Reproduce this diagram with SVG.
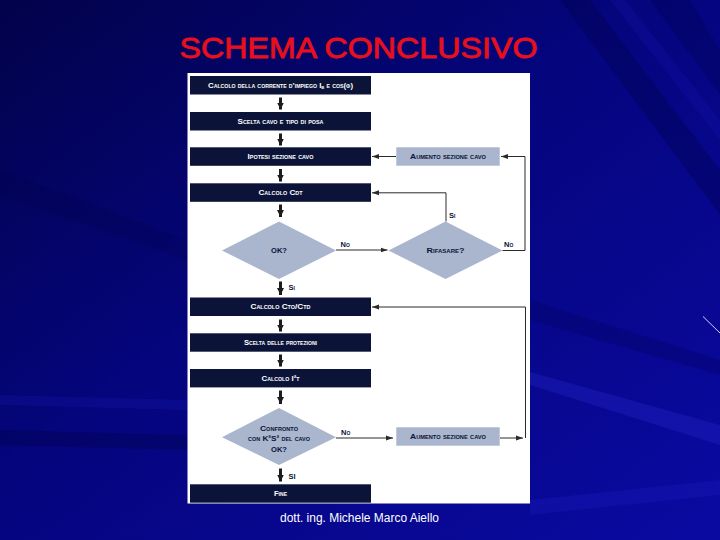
<svg xmlns="http://www.w3.org/2000/svg" width="720" height="540" viewBox="0 0 720 540">
<defs>
<linearGradient id="bg" x1="0" y1="0" x2="1" y2="1">
<stop offset="0" stop-color="#02024a"/>
<stop offset="0.45" stop-color="#05057e"/>
<stop offset="1" stop-color="#0a0aa2"/>
</linearGradient>
<marker id="thick" markerUnits="userSpaceOnUse" markerWidth="8" markerHeight="8" refX="7" refY="4" orient="auto" viewBox="0 0 8 8">
<path d="M0,0.5 L7,4 L0,7.5 z" fill="#1c1c1c"/>
</marker>
<marker id="thin" markerUnits="userSpaceOnUse" markerWidth="7" markerHeight="6" refX="7" refY="3" orient="auto" viewBox="0 0 7 6">
<path d="M0,0.5 L7,3 L0,5.5 z" fill="#2a2a2a"/>
</marker>
<style>
.dark{fill:#0b1438}
.light{fill:#a9b6cd}
.tw{fill:#ffffff;font-family:"Liberation Sans",Arial,sans-serif;font-weight:bold;font-size:7.5px;font-variant:small-caps;text-anchor:middle}
.td{fill:#0b1438;font-family:"Liberation Sans",Arial,sans-serif;font-weight:bold;font-size:7.5px;font-variant:small-caps;text-anchor:middle}
.lbl{fill:#0b1438;font-family:"Liberation Sans",Arial,sans-serif;font-weight:bold;font-size:7.5px;font-variant:small-caps}
.ta{stroke:#1c1c1c;stroke-width:3;fill:none;marker-end:url(#thick)}
.cna{stroke:#2a2a2a;stroke-width:1;fill:none;marker-end:url(#thin)}
</style>
</defs>
<rect width="720" height="540" fill="url(#bg)"/>
<g id="streaks">
<polygon points="560,0 590,0 720,170 720,215" fill="#000040" opacity="0.3"/>
<polygon points="610,0 625,0 720,120 720,140" fill="#1a1ac0" opacity="0.2"/>
<polygon points="650,0 690,0 720,50 720,95" fill="#000040" opacity="0.25"/>
<polygon points="530,372 720,425 720,445 530,385" fill="#2a2ad0" opacity="0.3"/>
<polygon points="530,300 720,360 720,375 530,320" fill="#000050" opacity="0.25"/>
<polygon points="0,395 187,400 187,410 0,405" fill="#2020c0" opacity="0.2"/>
<polygon points="0,430 187,435 187,450 0,445" fill="#000040" opacity="0.3"/>
<polygon points="530,500 720,480 720,495 530,515" fill="#2a2ad0" opacity="0.2"/>
<polygon points="0,170 187,240 187,260 0,195" fill="#000040" opacity="0.2"/>
<line x1="703" y1="316.5" x2="720" y2="333" stroke="#d8ccff" stroke-width="1"/>
</g>
<text id="title" x="358.5" y="57.7" textLength="358" lengthAdjust="spacingAndGlyphs" text-anchor="middle" font-family="'Liberation Sans',Arial,sans-serif" font-size="29.5" fill="#e8101c" stroke="#e8101c" stroke-width="0.8">SCHEMA CONCLUSIVO</text>
<rect id="panel" x="187.5" y="73" width="342.5" height="430.5" fill="#ffffff"/>
<g id="connectors">
<line class="ta" x1="280.5" y1="97.5" x2="280.5" y2="109.5"/>
<line class="ta" x1="280.5" y1="133.5" x2="280.5" y2="145.5"/>
<line class="ta" x1="280.5" y1="169" x2="280.5" y2="181.5"/>
<line class="ta" x1="280.5" y1="204.5" x2="280.5" y2="217"/>
<line class="ta" x1="280.5" y1="281.5" x2="280.5" y2="295"/>
<line class="ta" x1="280.5" y1="319.5" x2="280.5" y2="331.5"/>
<line class="ta" x1="280.5" y1="354.5" x2="280.5" y2="366.5"/>
<line class="ta" x1="280.5" y1="390.5" x2="280.5" y2="404"/>
<line class="ta" x1="280.5" y1="468.5" x2="280.5" y2="481.5"/>
<line class="cna" x1="396" y1="156.5" x2="372" y2="156.5"/>
<polyline class="cna" points="502.5,250.5 525,250.5 525,156.5 501,156.5"/>
<polyline class="cna" points="446,221.5 446,192.8 372,192.8"/>
<line class="cna" x1="336" y1="250" x2="387.5" y2="250"/>
<line class="cna" x1="336" y1="438" x2="393" y2="438"/>
<line class="cna" x1="500" y1="438" x2="523" y2="438"/>
<polyline class="cna" points="525.5,438 525.5,307 372,307"/>
<text class="lbl" x="340.5" y="246.5">No</text>
<text class="lbl" x="504" y="246.5">No</text>
<text class="lbl" x="449" y="218">Si</text>
<text class="lbl" x="288.5" y="289.5">Si</text>
<text class="lbl" x="341" y="435">No</text>
<text class="lbl" x="288.5" y="479">SI</text>
</g>
<g id="n1"><rect class="dark" x="190" y="76" width="181" height="18.5"/><text class="tw" x="280.5" y="87.7" textLength="145" lengthAdjust="spacingAndGlyphs">Calcolo della corrente d’impiego I<tspan font-size="5.5" dy="1.5">b</tspan><tspan dy="-1.5"> e cos(φ)</tspan></text></g>
<g id="n2"><rect class="dark" x="190" y="112" width="181" height="18.5"/><text class="tw" x="280.5" y="123.7" textLength="86" lengthAdjust="spacingAndGlyphs">Scelta cavo e tipo di posa</text></g>
<g id="n3"><rect class="dark" x="190" y="147.3" width="181" height="18.5"/><text class="tw" x="280.5" y="159" textLength="66" lengthAdjust="spacingAndGlyphs">Ipotesi sezione cavo</text></g>
<g id="n4"><rect class="dark" x="190" y="183.3" width="181" height="18.5"/><text class="tw" x="280.5" y="195" textLength="44" lengthAdjust="spacingAndGlyphs">Calcolo Cdt</text></g>
<g id="n5"><polygon class="light" points="279,221.5 336,250.5 279,279 222,250.5"/><text class="td" x="279" y="253.2" textLength="16" lengthAdjust="spacingAndGlyphs">OK?</text></g>
<g id="n6"><polygon class="light" points="445.5,221.5 502.5,250.5 445.5,279 388.5,250.5"/><text class="td" x="445.5" y="253.2" textLength="38" lengthAdjust="spacingAndGlyphs">Rifasare?</text></g>
<g id="n7"><rect class="light" x="396.3" y="147.3" width="103.4" height="18.4"/><text class="td" x="448" y="159" textLength="76" lengthAdjust="spacingAndGlyphs">Aumento sezione cavo</text></g>
<g id="n8"><rect class="dark" x="190" y="297.5" width="181" height="18.5"/><text class="tw" x="280.5" y="309.3" textLength="60" lengthAdjust="spacingAndGlyphs">Calcolo Cto/Ctd</text></g>
<g id="n9"><rect class="dark" x="190" y="333.3" width="181" height="18.4"/><text class="tw" x="280.5" y="345" textLength="73" lengthAdjust="spacingAndGlyphs">Scelta delle protezioni</text></g>
<g id="n10"><rect class="dark" x="190" y="369" width="181" height="18.4"/><text class="tw" x="280.5" y="380.7" textLength="38" lengthAdjust="spacingAndGlyphs">Calcolo I²t</text></g>
<g id="n11"><polygon class="light" points="279,408 336,437.3 279,465 222,437.3"/>
<text class="td" x="279" y="431" textLength="38" lengthAdjust="spacingAndGlyphs">Confronto</text>
<text class="td" x="279" y="441.2" textLength="62" lengthAdjust="spacingAndGlyphs">con K²S² del cavo</text>
<text class="td" x="279" y="451.8" textLength="16" lengthAdjust="spacingAndGlyphs">OK?</text></g>
<g id="n12"><rect class="light" x="396.3" y="427.3" width="103.4" height="18.4"/><text class="td" x="448" y="439" textLength="76" lengthAdjust="spacingAndGlyphs">Aumento sezione cavo</text></g>
<g id="n13"><rect class="dark" x="190" y="484.3" width="181" height="18.4"/><text class="tw" x="280.5" y="496" textLength="13" lengthAdjust="spacingAndGlyphs">Fine</text></g>
<text id="footer" x="359.5" y="522.3" textLength="159" lengthAdjust="spacingAndGlyphs" text-anchor="middle" font-family="'Liberation Sans',Arial,sans-serif" font-size="12.5" fill="#ffffff">dott. ing. Michele Marco Aiello</text>
</svg>
